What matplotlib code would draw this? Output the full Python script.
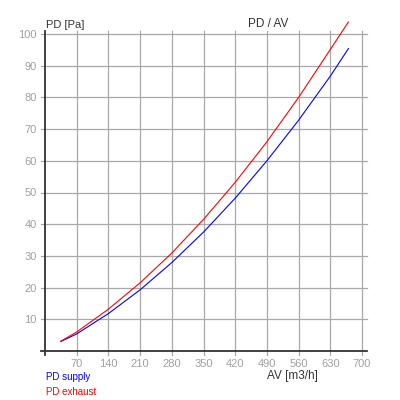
import matplotlib.pyplot as plt

# ------------------ Data ------------------
av = [35, 70, 140, 210, 280, 350, 420, 490, 560, 630, 670]
pd_supply = [3.0, 5.4, 11.8, 19.3, 27.9, 37.5, 48.2, 60.0, 72.8, 86.7, 95.4]
pd_exhaust = [3.1, 6.0, 13.2, 21.5, 30.9, 41.5, 53.2, 66.0, 80.0, 95.1, 103.8]

x_ticks = [70, 140, 210, 280, 350, 420, 490, 560, 630, 700]
y_ticks = [10, 20, 30, 40, 50, 60, 70, 80, 90, 100]

plt.rcParams['font.family'] = ['Liberation Sans', 'DejaVu Sans']

fig = plt.figure(figsize=(4, 4), dpi=100)
ax = fig.add_axes([0.1125, 0.1225, 0.7925, 0.7925])
ax.set_xlim(0, 700)
ax.set_ylim(0, 100)

# grid lines, sticking out a little past the plot area
for xv in x_ticks:
    ax.axvline(xv, ymin=-0.013, ymax=1.01, color='#a8a8a8', lw=0.9, clip_on=False, zorder=1)
for yv in y_ticks:
    ax.axhline(yv, xmin=-0.013, xmax=1.015, color='#a8a8a8', lw=0.9, clip_on=False, zorder=1)

# axis lines
ax.axvline(0, ymin=-0.013, ymax=1.01, color='#333333', lw=1.3, clip_on=False, zorder=2)
ax.axhline(0, xmin=-0.013, xmax=1.015, color='#333333', lw=1.3, clip_on=False, zorder=2)

for s in ax.spines.values():
    s.set_visible(False)

# curves
ax.plot(av, pd_supply, color='#0000ff', lw=0.8, clip_on=False, zorder=3)
ax.plot(av, pd_exhaust, color='#ff0000', lw=0.8, clip_on=False, zorder=3)

ax.set_xticks(x_ticks)
ax.set_yticks(y_ticks)
ax.tick_params(length=0, labelsize=8, labelcolor='#a0a0a0', pad=6)

# texts
fig.text(0.115, 0.924, 'PD [Pa]', fontsize=8, color='#333333', va='bottom')
fig.text(0.67, 0.924, 'PD / AV', fontsize=8.5, color='#333333', va='bottom', ha='center')
fig.text(0.73, 0.06, 'AV [m3/h]', fontsize=8.5, color='#333333', ha='center', va='center')
fig.text(0.115, 0.057, 'PD supply', fontsize=7, color='#0000ff', va='center')
fig.text(0.115, 0.02, 'PD exhaust', fontsize=7, color='#ff0000', va='center')

plt.savefig('out.png', dpi=100)
